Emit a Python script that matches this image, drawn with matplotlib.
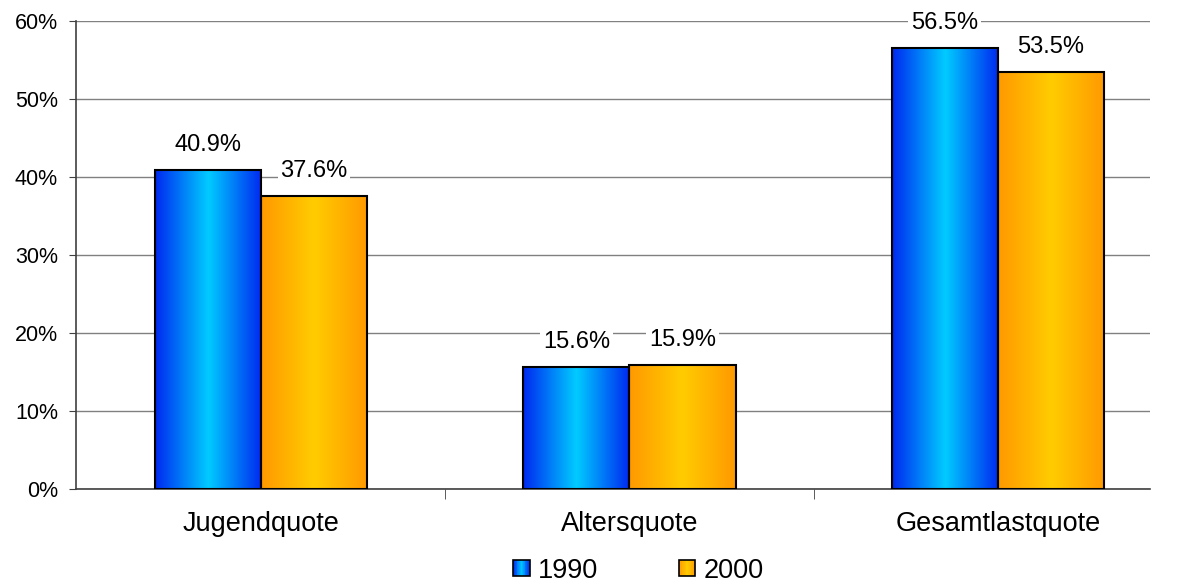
import matplotlib
matplotlib.use("Agg")
import matplotlib.pyplot as plt
import numpy as np
from matplotlib.colors import LinearSegmentedColormap
from matplotlib.patches import Rectangle
from matplotlib.legend_handler import HandlerBase

plt.rcParams['font.family'] = ['Liberation Sans', 'DejaVu Sans']

categories = ['Jugendquote', 'Altersquote', 'Gesamtlastquote']
years = ['1990', '2000']
values_1990 = [40.9, 15.6, 56.5]
values_2000 = [37.6, 15.9, 53.5]

blue_cmap = LinearSegmentedColormap.from_list('b', ['#0028F0', '#00CCFF', '#0028F0'])
orange_cmap = LinearSegmentedColormap.from_list('o', ['#FF9900', '#FFCC00', '#FF9900'])
grad = np.linspace(0, 1, 256).reshape(1, -1)

fs = 17      # value labels
fs_y = 15.5  # y tick labels
fs_x = 19.5  # category labels and legend

fig = plt.figure(figsize=(11.78, 5.87), dpi=100)
ax = fig.add_axes([0.0645, 0.167, 0.9115, 0.797])

x = np.arange(len(categories))
w = 0.288

def gradient_bars(xs, vals, cmap):
    bars = ax.bar(xs, vals, w, facecolor='none', edgecolor='black', linewidth=1.5, zorder=3)
    for b in bars:
        x0, y0 = b.get_x(), b.get_y()
        im = ax.imshow(grad, cmap=cmap, aspect='auto', zorder=2.5,
                       extent=[x0, x0 + b.get_width(), y0, y0 + b.get_height()])
        im.set_clip_path(b)
    for b, v in zip(bars, vals):
        ax.annotate('%.1f%%' % v, (b.get_x() + b.get_width() / 2, v),
                    xytext=(0, 18), textcoords='offset points', ha='center', va='center',
                    fontsize=fs, zorder=4,
                    bbox=dict(facecolor='white', edgecolor='none', pad=2))
    return bars

gradient_bars(x - w / 2, values_1990, blue_cmap)
gradient_bars(x + w / 2, values_2000, orange_cmap)

ax.set_xlim(-0.502, 2.412)
ax.set_ylim(0, 60)
ax.set_yticks(np.arange(0, 61, 10))
ax.set_yticklabels(['%d%%' % v for v in range(0, 61, 10)], fontsize=fs_y)
ax.set_xticks(x)
ax.set_xticklabels(categories, fontsize=fs_x)
ax.set_xticks([0.5, 1.5], minor=True)
ax.tick_params(axis='x', which='major', length=0, pad=16)
ax.tick_params(axis='x', which='minor', length=7, direction='out', color='#404040')
ax.tick_params(axis='y', length=5, color='#404040', pad=8)
ax.yaxis.grid(True, color='#808080', linewidth=1)
ax.set_axisbelow(True)
for s in ['top', 'right']:
    ax.spines[s].set_visible(False)
for s in ['left', 'bottom']:
    ax.spines[s].set_color('#404040')
    ax.spines[s].set_linewidth(1.2)


class GradHandler(HandlerBase):
    def __init__(self, cmap):
        super().__init__()
        self.cmap = cmap

    def create_artists(self, legend, orig_handle, xdescent, ydescent, width, height, fontsize, trans):
        s = width
        x0 = -xdescent
        y0 = -ydescent + (height - s) / 2
        arts = []
        n = 20
        for i in range(n):
            r = Rectangle((x0 + s * i / n, y0), s / n, s, facecolor=self.cmap((i + 0.5) / n),
                          edgecolor='none', transform=trans)
            arts.append(r)
        arts.append(Rectangle((x0, y0), s, s, facecolor='none', edgecolor='black',
                              linewidth=1.2, transform=trans))
        return arts

h1 = Rectangle((0, 0), 1, 1)
h2 = Rectangle((0, 0), 1, 1)
fig.legend([h1, h2], years, loc='lower center', bbox_to_anchor=(0.542, -0.036), ncol=2,
           frameon=False, fontsize=fs_x, handlelength=0.6, handletextpad=0.3, columnspacing=3.0,
           handler_map={h1: GradHandler(blue_cmap), h2: GradHandler(orange_cmap)})

fig.savefig('out.png', dpi=100)
